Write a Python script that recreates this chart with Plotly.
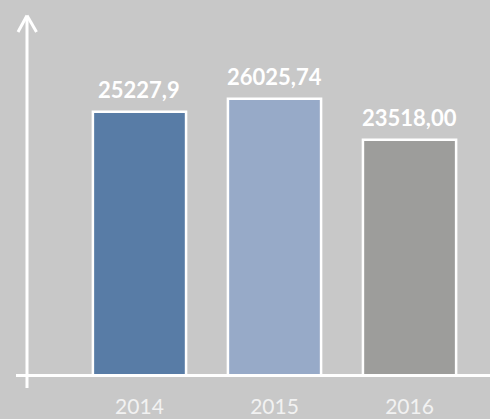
import plotly.graph_objects as go

years = ["2014", "2015", "2016"]
values = [25227.9, 26025.74, 23518.00]
labels = ["25227,9", "26025,74", "23518,00"]
colors = ["#587ca6", "#97aac8", "#9d9d9b"]

BG = "#c8c8c8"

fig = go.Figure()
fig.add_trace(go.Bar(
    x=years, y=values,
    marker=dict(color=colors, line=dict(color="white", width=2.5)),
    hoverinfo="skip",
))

for i, (v, t) in enumerate(zip(values, labels)):
    fig.add_annotation(x=i, y=v, text="<b>" + t + "</b>", showarrow=False, yanchor="bottom",
                       yshift=7, font=dict(family="Lato, Open Sans, sans-serif",
                                           size=22, color="white"))

W, H = 490, 419
ml, mr, mt, mb = 27, 0, 20, 44
pw, ph = W - ml - mr, H - mt - mb

def px(xp):
    return (xp - ml) / pw

def py(yp):
    return (H - mb - yp) / ph

line = dict(color="white", width=3)
shapes = [
    dict(type="line", xref="paper", yref="paper", x0=px(16), x1=1.0, y0=py(375.5), y1=py(375.5), line=line),
    dict(type="line", xref="paper", yref="paper", x0=0, x1=0, y0=py(388), y1=py(16), line=line),
    dict(type="line", xref="paper", yref="paper", x0=px(18), x1=0, y0=py(32), y1=py(15.5), line=line),
    dict(type="line", xref="paper", yref="paper", x0=px(36.5), x1=0, y0=py(32), y1=py(15.5), line=line),
]

fig.update_layout(
    width=W, height=H,
    margin=dict(l=ml, r=mr, t=mt, b=mb, autoexpand=False),
    paper_bgcolor=BG, plot_bgcolor=BG,
    bargap=0.31,
    showlegend=False,
    shapes=shapes,
    xaxis=dict(type="category", range=[-0.833, 2.596], showline=False, showgrid=False,
               zeroline=False, ticks="", ticklabelstandoff=17, automargin=False,
               tickfont=dict(family="Lato, Open Sans, sans-serif", size=21, color="#f2f2f2")),
    yaxis=dict(range=[9080, 30860], showline=False, showgrid=False, zeroline=False,
               showticklabels=False, ticks="", automargin=False),
)

fig.write_html("out.html", config={"displayModeBar": False},
               post_script="document.body.style.margin='0';document.body.style.overflow='hidden';")
